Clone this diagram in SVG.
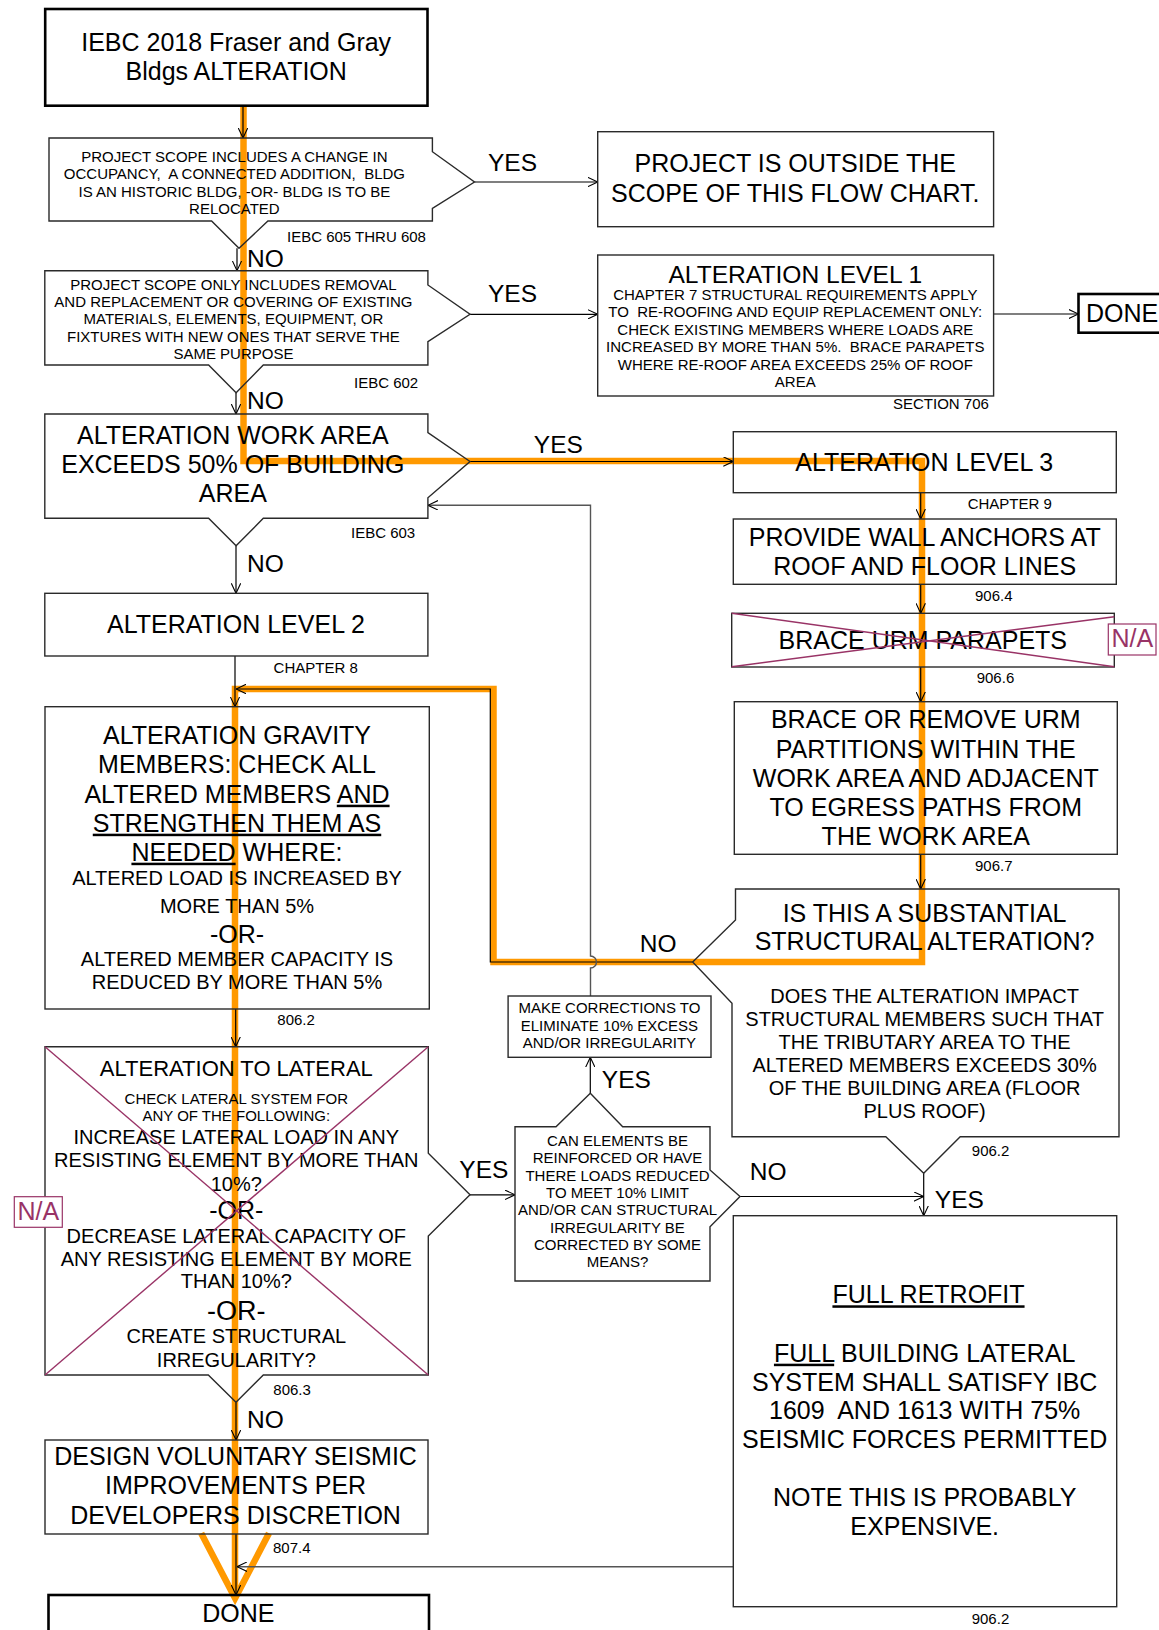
<svg xmlns="http://www.w3.org/2000/svg" width="1159" height="1630" viewBox="0 0 1159 1630">
<defs>
<style>
.box{fill:none;stroke:#2a2a2a;stroke-width:1.4}
.thick{fill:none;stroke:#000;stroke-width:2.6}
.t{font-family:"Liberation Sans",Arial,sans-serif;fill:#000;text-anchor:middle}
.s{font-family:"Liberation Sans",Arial,sans-serif;fill:#000;font-size:15px}
.lb{font-family:"Liberation Sans",Arial,sans-serif;fill:#000;font-size:24.5px}
.f15{font-size:15px}.f20{font-size:20px}.f22{font-size:22px}.f25{font-size:25px}.f27{font-size:27px}
.na{font-family:"Liberation Sans",Arial,sans-serif;fill:#993366;font-size:25px;text-anchor:middle}
.nab{fill:#fff;stroke:#993366;stroke-width:1.2}
.xl{stroke:#993366;stroke-width:1.4;fill:none}
.conn{fill:none;stroke:#000;stroke-width:1.2}
.grey{fill:none;stroke:#555;stroke-width:1.4}
.orange{fill:none;stroke:#FF9900;stroke-width:6.5;stroke-linejoin:miter}
.u{text-decoration:underline}
</style>
<marker id="arr" viewBox="0 0 10 10" refX="10" refY="5" markerWidth="10" markerHeight="10" markerUnits="userSpaceOnUse" orient="auto">
<path d="M0,0.3 L10,5 L0,9.7" fill="none" stroke="#000" stroke-width="1.1"/>
</marker>
</defs>
<rect width="1159" height="1630" fill="#fff"/>

<!-- connectors (drawn first so text sits on top of the orange highlight) -->
<g id="connectors">
<path class="orange" d="M243.5,105.7 L243.5,461 L922,461 L922,962 L493.5,962 L493.5,689 L235,689 L235,1598"/>
<path class="orange" d="M201.2,1533.3 L235.1,1598.3 L269,1533.3"/>

<line class="conn" x1="243" y1="105.7" x2="243" y2="138" marker-end="url(#arr)"/>
<line class="conn" x1="237" y1="248.3" x2="237" y2="270.7" marker-end="url(#arr)"/>
<line class="conn" x1="236" y1="392.7" x2="236" y2="414" marker-end="url(#arr)"/>
<line class="conn" x1="474.5" y1="182" x2="597.7" y2="182" marker-end="url(#arr)"/>
<line class="conn" x1="470" y1="314.3" x2="597.7" y2="314.3" marker-end="url(#arr)"/>
<line class="conn" x1="993.6" y1="314" x2="1078.5" y2="314" marker-end="url(#arr)"/>
<line class="conn" x1="470" y1="461.5" x2="733.3" y2="461.5" marker-end="url(#arr)"/>
<line class="conn" x1="236" y1="545.7" x2="236" y2="593.3" marker-end="url(#arr)"/>
<line class="conn" x1="235" y1="656" x2="235" y2="706.7" marker-end="url(#arr)"/>
<path class="conn" d="M692.7,962 L490.3,962 L490.3,689 L236,689" marker-end="url(#arr)"/>
<line class="conn" x1="235.7" y1="1009" x2="235.7" y2="1046.7" marker-end="url(#arr)"/>
<line class="conn" x1="470" y1="1194.8" x2="515" y2="1194.8" marker-end="url(#arr)"/>
<line class="conn" x1="590.3" y1="1093.3" x2="590.3" y2="1057.3" marker-end="url(#arr)"/>
<path class="grey" d="M590.5,996 L590.5,968 A6,6 0 0 0 590.5,956 L590.5,505.3 L428,505.3" marker-end="url(#arr)"/>
<line class="conn" x1="740" y1="1196.5" x2="923.7" y2="1196.5" marker-end="url(#arr)"/>
<line class="conn" x1="923.7" y1="1173.3" x2="923.7" y2="1215.7" marker-end="url(#arr)"/>
<line class="grey" x1="733.3" y1="1566.7" x2="237" y2="1566.7" marker-end="url(#arr)"/>
<line class="conn" x1="236" y1="1402.3" x2="236" y2="1440" marker-end="url(#arr)"/>
<line class="conn" x1="236" y1="1534" x2="236" y2="1595" marker-end="url(#arr)"/>
<line class="conn" x1="920.7" y1="492.7" x2="920.7" y2="519" marker-end="url(#arr)"/>
<line class="conn" x1="920.7" y1="584.3" x2="920.7" y2="613.3" marker-end="url(#arr)"/>
<line class="conn" x1="920.7" y1="667" x2="920.7" y2="701.7" marker-end="url(#arr)"/>
<line class="conn" x1="920.7" y1="854.3" x2="920.7" y2="889" marker-end="url(#arr)"/>
</g>

<!-- nodes -->
<g id="title">
<rect class="thick" x="45.2" y="9" width="382.3" height="96.7"/>
<text class="t f25" x="236.2" y="51">IEBC 2018 Fraser and Gray</text>
<text class="t f25" x="236.2" y="79.5">Bldgs ALTERATION</text>
</g>

<g id="decision1">
<path class="box" d="M49,138 L432.4,138 L432.4,151.7 L474.5,182 L432.4,208.3 L432.4,221 L267.9,221 L239,248.3 L211.6,221 L49,221 Z"/>
<text class="t f15" x="234.4" y="161.7">PROJECT SCOPE INCLUDES A CHANGE IN</text>
<text class="t f15" x="234.4" y="179" xml:space="preserve">OCCUPANCY,  A CONNECTED ADDITION,  BLDG</text>
<text class="t f15" x="234.4" y="196.7">IS AN HISTORIC BLDG, -OR- BLDG IS TO BE</text>
<text class="t f15" x="234.4" y="214">RELOCATED</text>
</g>

<g id="outside">
<rect class="box" x="597.7" y="131.7" width="395.9" height="95"/>
<text class="t f25" x="795.3" y="172.3">PROJECT IS OUTSIDE THE</text>
<text class="t f25" x="795.3" y="201.7">SCOPE OF THIS FLOW CHART.</text>
</g>

<g id="decision2">
<path class="box" d="M44.8,270.7 L427.9,270.7 L427.9,285 L470,314.3 L427.9,341.7 L427.9,365 L263.3,365 L236.1,392.7 L208.6,365 L44.8,365 Z"/>
<text class="t f15" x="233.4" y="290">PROJECT SCOPE ONLY INCLUDES REMOVAL</text>
<text class="t f15" x="233.4" y="306.7">AND REPLACEMENT OR COVERING OF EXISTING</text>
<text class="t f15" x="233.4" y="324">MATERIALS, ELEMENTS, EQUIPMENT, OR</text>
<text class="t f15" x="233.4" y="341.7">FIXTURES WITH NEW ONES THAT SERVE THE</text>
<text class="t f15" x="233.4" y="359">SAME PURPOSE</text>
</g>

<g id="level1">
<rect class="box" x="597.7" y="255" width="395.9" height="141"/>
<text class="t" style="font-size:24.6px" x="795.3" y="282.7">ALTERATION LEVEL 1</text>
<text class="t f15" x="795.3" y="300">CHAPTER 7 STRUCTURAL REQUIREMENTS APPLY</text>
<text class="t f15" x="795.3" y="317.3" xml:space="preserve">TO  RE-ROOFING AND EQUIP REPLACEMENT ONLY:</text>
<text class="t f15" x="795.3" y="335">CHECK EXISTING MEMBERS WHERE LOADS ARE</text>
<text class="t f15" x="795.3" y="352.3" xml:space="preserve">INCREASED BY MORE THAN 5%.  BRACE PARAPETS</text>
<text class="t f15" x="795.3" y="370">WHERE RE-ROOF AREA EXCEEDS 25% OF ROOF</text>
<text class="t f15" x="795.3" y="386.7">AREA</text>
</g>

<g id="done1">
<rect class="thick" x="1078.5" y="294" width="95" height="38.7"/>
<text class="t f25" style="text-anchor:start" x="1086" y="322">DONE</text>
</g>

<g id="workarea">
<path class="box" d="M44.8,414 L427.9,414 L427.9,432.7 L470,461.5 L427.9,497.7 L427.9,518.3 L263.3,518.3 L236.1,545.7 L208.6,518.3 L44.8,518.3 Z"/>
<text class="t f25" x="232.8" y="444.3">ALTERATION WORK AREA</text>
<text class="t f25" x="232.8" y="473.3">EXCEEDS 50% OF BUILDING</text>
<text class="t f25" x="232.8" y="501.7">AREA</text>
</g>

<g id="level2">
<rect class="box" x="44.8" y="593.3" width="383.1" height="62.7"/>
<text class="t f25" x="236" y="633.3">ALTERATION LEVEL 2</text>
</g>

<g id="gravity">
<rect class="box" x="45" y="706.7" width="384.3" height="302.3"/>
<text class="t f25" x="237" y="744.3">ALTERATION GRAVITY</text>
<text class="t f25" x="237" y="773.3">MEMBERS: CHECK ALL</text>
<text class="t f25" x="237" y="802.7">ALTERED MEMBERS <tspan class="u">AND</tspan></text>
<text class="t f25" x="237" y="831.7"><tspan class="u">STRENGTHEN THEM AS</tspan></text>
<text class="t f25" x="237" y="860.7"><tspan class="u">NEEDED</tspan> WHERE:</text>
<text class="t f20" x="237" y="885">ALTERED LOAD IS INCREASED BY</text>
<text class="t f20" x="237" y="913.3">MORE THAN 5%</text>
<text class="t f25" x="237" y="942.7">-OR-</text>
<text class="t f20" x="237" y="965.7">ALTERED MEMBER CAPACITY IS</text>
<text class="t f20" x="237" y="989">REDUCED BY MORE THAN 5%</text>
</g>

<g id="lateral">
<path class="box" d="M45,1046.7 L428.3,1046.7 L428.3,1153.3 L470,1194.8 L428.3,1236 L428.3,1375 L263.3,1375 L236,1402.3 L208.3,1375 L45,1375 Z"/>
<text class="t f22" x="236.3" y="1076">ALTERATION TO LATERAL</text>
<text class="t f15" x="236.3" y="1104">CHECK LATERAL SYSTEM FOR</text>
<text class="t f15" x="236.3" y="1120.7">ANY OF THE FOLLOWING:</text>
<text class="t f20" x="236.3" y="1144.3">INCREASE LATERAL LOAD IN ANY</text>
<text class="t f20" x="236.3" y="1166.7">RESISTING ELEMENT BY MORE THAN</text>
<text class="t f20" x="236.3" y="1190.7">10%?</text>
<text class="t f25" x="236.3" y="1219">-OR-</text>
<text class="t f20" x="236.3" y="1242.7">DECREASE LATERAL CAPACITY OF</text>
<text class="t f20" x="236.3" y="1265.7">ANY RESISTING ELEMENT BY MORE</text>
<text class="t f20" x="236.3" y="1288.3">THAN 10%?</text>
<text class="t f27" x="236.3" y="1320">-OR-</text>
<text class="t f20" x="236.3" y="1343.3">CREATE STRUCTURAL</text>
<text class="t f20" x="236.3" y="1366.7">IRREGULARITY?</text>
<line class="xl" x1="45" y1="1046.7" x2="428.3" y2="1375"/>
<line class="xl" x1="428.3" y1="1046.7" x2="45" y2="1375"/>
</g>

<g id="na-lateral">
<rect class="nab" x="14.3" y="1196.7" width="48" height="30.6"/>
<text class="na" x="38.3" y="1219.5">N/A</text>
</g>

<g id="voluntary">
<rect class="box" x="45" y="1440" width="383" height="94"/>
<text class="t f25" x="235.6" y="1465">DESIGN VOLUNTARY SEISMIC</text>
<text class="t f25" x="235.6" y="1494.3">IMPROVEMENTS PER</text>
<text class="t f25" x="235.6" y="1524">DEVELOPERS DISCRETION</text>
</g>

<g id="done2">
<rect class="thick" x="48.5" y="1595" width="380.5" height="60"/>
<text class="t f25" x="238.3" y="1622">DONE</text>
</g>

<g id="level3">
<rect class="box" x="733.3" y="431.7" width="383" height="61"/>
<text class="t f25" x="924.3" y="471">ALTERATION LEVEL 3</text>
</g>

<g id="anchors">
<rect class="box" x="733.3" y="519" width="383" height="65.3"/>
<text class="t f25" x="924.7" y="546">PROVIDE WALL ANCHORS AT</text>
<text class="t f25" x="924.7" y="575">ROOF AND FLOOR LINES</text>
</g>

<g id="parapets">
<rect class="box" x="731.7" y="613.3" width="382.6" height="53.7"/>
<text class="t f25" x="922.8" y="649">BRACE URM PARAPETS</text>
<line class="xl" x1="731.7" y1="613.3" x2="1114.3" y2="666.7"/>
<line class="xl" x1="731.7" y1="666.7" x2="1114.3" y2="616.7"/>
</g>

<g id="na-parapets">
<rect class="nab" x="1108.3" y="624" width="47.7" height="31"/>
<text class="na" x="1132.3" y="646.5">N/A</text>
</g>

<g id="partitions">
<rect class="box" x="734.3" y="701.7" width="383" height="152.6"/>
<text class="t f25" x="925.8" y="728.3">BRACE OR REMOVE URM</text>
<text class="t f25" x="925.8" y="757.7">PARTITIONS WITHIN THE</text>
<text class="t f25" x="925.8" y="786.7">WORK AREA AND ADJACENT</text>
<text class="t f25" x="925.8" y="815.7">TO EGRESS PATHS FROM</text>
<text class="t f25" x="925.8" y="845">THE WORK AREA</text>
</g>

<g id="substantial">
<path class="box" d="M735.5,889 L1119,889 L1119,1136.7 L960.2,1136.7 L923.7,1173.3 L885.8,1136.7 L732,1136.7 L732,1003.3 L692.7,962 L735.5,920 Z"/>
<text class="t f25" x="924.6" y="921.7">IS THIS A SUBSTANTIAL</text>
<text class="t f25" x="924.6" y="950">STRUCTURAL ALTERATION?</text>
<text class="t f20" x="924.6" y="1003.3">DOES THE ALTERATION IMPACT</text>
<text class="t f20" x="924.6" y="1026">STRUCTURAL MEMBERS SUCH THAT</text>
<text class="t f20" x="924.6" y="1049.3">THE TRIBUTARY AREA TO THE</text>
<text class="t f20" x="924.6" y="1072.3">ALTERED MEMBERS EXCEEDS 30%</text>
<text class="t f20" x="924.6" y="1095">OF THE BUILDING AREA (FLOOR</text>
<text class="t f20" x="924.6" y="1118.3">PLUS ROOF)</text>
</g>

<g id="corrections">
<rect class="box" x="508.1" y="996" width="202.9" height="61.3"/>
<text class="t f15" x="609.4" y="1012.7">MAKE CORRECTIONS TO</text>
<text class="t f15" x="609.4" y="1030.7">ELIMINATE 10% EXCESS</text>
<text class="t f15" x="609.4" y="1047.7">AND/OR IRREGULARITY</text>
</g>

<g id="canelements">
<path class="box" d="M515,1126.7 L556,1126.7 L590.3,1093.3 L622.7,1126.7 L710,1126.7 L710,1170 L740,1196.5 L710,1226.7 L710,1281 L515,1281 Z"/>
<text class="t f15" x="617.5" y="1145.7">CAN ELEMENTS BE</text>
<text class="t f15" x="617.5" y="1163.3">REINFORCED OR HAVE</text>
<text class="t f15" x="617.5" y="1180.7">THERE LOADS REDUCED</text>
<text class="t f15" x="617.5" y="1198.3">TO MEET 10% LIMIT</text>
<text class="t f15" x="617.5" y="1215">AND/OR CAN STRUCTURAL</text>
<text class="t f15" x="617.5" y="1232.7">IRREGULARITY BE</text>
<text class="t f15" x="617.5" y="1250">CORRECTED BY SOME</text>
<text class="t f15" x="617.5" y="1266.7">MEANS?</text>
</g>

<g id="retrofit">
<rect class="box" x="733.3" y="1215.7" width="383.4" height="391"/>
<text class="t f25" x="928.5" y="1303.3"><tspan class="u">FULL RETROFIT</tspan></text>
<text class="t f25" x="924.7" y="1361.7"><tspan class="u">FULL</tspan> BUILDING LATERAL</text>
<text class="t f25" x="924.7" y="1390.7">SYSTEM SHALL SATISFY IBC</text>
<text class="t f25" x="924.7" y="1419.3" xml:space="preserve">1609  AND 1613 WITH 75%</text>
<text class="t f25" x="924.7" y="1448.3">SEISMIC FORCES PERMITTED</text>
<text class="t f25" x="924.7" y="1506">NOTE THIS IS PROBABLY</text>
<text class="t f25" x="924.7" y="1535">EXPENSIVE.</text>
</g>

<!-- reference labels -->
<g id="refs">
<text class="s" x="287" y="242.3">IEBC 605 THRU 608</text>
<text class="s" x="354" y="387.7">IEBC 602</text>
<text class="s" x="893" y="408.7">SECTION 706</text>
<text class="s" x="351" y="538.3">IEBC 603</text>
<text class="s" x="273.6" y="673.3">CHAPTER 8</text>
<text class="s" x="967.7" y="509.3">CHAPTER 9</text>
<text class="s" x="975" y="600.7">906.4</text>
<text class="s" x="976.7" y="682.7">906.6</text>
<text class="s" x="975" y="870.7">906.7</text>
<text class="s" x="277.3" y="1025">806.2</text>
<text class="s" x="971.8" y="1156">906.2</text>
<text class="s" x="273.3" y="1395">806.3</text>
<text class="s" x="273" y="1553.3">807.4</text>
<text class="s" x="971.7" y="1624">906.2</text>
</g>

<g id="labels">
<text class="lb" x="488" y="170.7">YES</text>
<text class="lb" x="247" y="266.7">NO</text>
<text class="lb" x="488" y="301.7">YES</text>
<text class="lb" x="247" y="409.3">NO</text>
<text class="lb" x="533.8" y="453.3">YES</text>
<text class="lb" x="247" y="571.7">NO</text>
<text class="lb" x="639.7" y="951.7">NO</text>
<text class="lb" x="601.8" y="1088.3">YES</text>
<text class="lb" x="459.3" y="1178.3">YES</text>
<text class="lb" x="749.8" y="1180">NO</text>
<text class="lb" x="934.8" y="1207.7">YES</text>
<text class="lb" x="247" y="1428.3">NO</text>
</g>
</svg>
